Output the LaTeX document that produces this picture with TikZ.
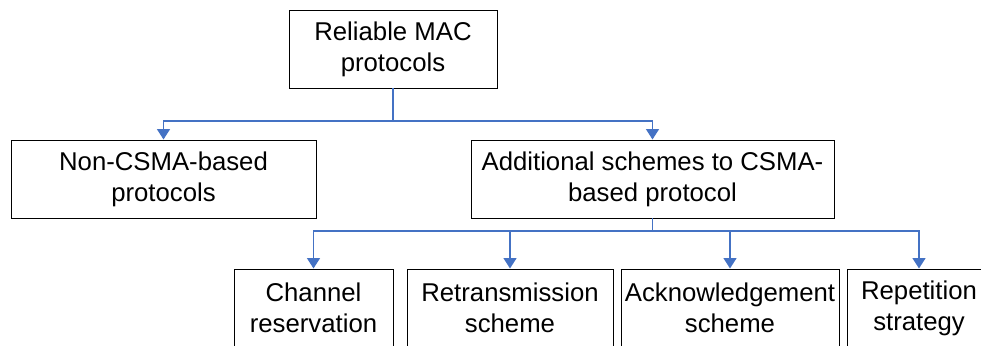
\documentclass[tikz,border=0pt]{standalone}
\usepackage{fontspec}
\setmainfont{Liberation Sans}
\usetikzlibrary{arrows.meta}
\definecolor{linkblue}{HTML}{4472C4}

\begin{document}
\begin{tikzpicture}[
    box/.style={draw=black,line width=0.7pt,align=center,inner sep=0pt,
        minimum height=1.95cm,font=\fontsize{18.3}{22}\selectfont},
    link/.style={draw=linkblue,line width=1.3pt,-{Triangle[width=0.32cm,length=0.26cm]}}
]
    \clip (0,0) rectangle (24.525,8.625);
    \useasboundingbox (0,0) rectangle (24.525,8.625);

    \node[box,minimum width=5.2cm] (root) at (9.825,7.4) {Reliable MAC\\protocols};
    \node[box,minimum width=7.625cm] (noncsma) at (4.0875,4.15) {Non-CSMA-based\\protocols};
    \node[box,minimum width=9.075cm] (csma) at (16.3125,4.15) {Additional schemes to CSMA-\\based protocol};

    \node[box,minimum width=3.975cm] (chan) at (7.8375,0.925) {Channel\\reservation};
    \node[box,minimum width=5.15cm] (retx) at (12.75,0.925) {Retransmission\\scheme};
    \node[box,minimum width=5.45cm] (ack) at (18.25,0.925) {Acknowledgement\\scheme};
    \node[box,minimum width=3.6cm] (rep) at (22.975,0.925) {Repetition\\strategy};

    % junction points
    \coordinate (j1) at (9.825,5.6);
    \coordinate (j2) at (16.3125,2.85);

    \draw[link] (root.south) -- (j1) -| (noncsma.north);
    \draw[link] (j1) -| (csma.north);

    \draw[draw=linkblue,line width=1.3pt] (csma.south) -- (j2);
    \foreach \n in {chan,retx,ack,rep}
        \draw[link] (j2) -| (\n.north);
\end{tikzpicture}
\end{document}
